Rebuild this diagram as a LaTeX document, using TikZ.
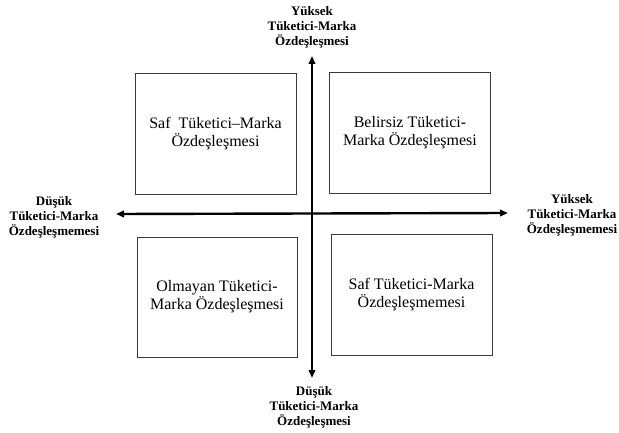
\documentclass[tikz,border=0pt]{standalone}
\usepackage{fontspec}
\setmainfont{Liberation Serif}
\usetikzlibrary{arrows.meta}

\definecolor{kutuCizgi}{HTML}{3A3A3A}

\begin{document}
\begin{tikzpicture}[x=1pt,y=-1pt,
  kutu/.style={draw=kutuCizgi,line width=0.9pt,align=center,inner sep=0pt,
    minimum width=161pt,minimum height=121pt,font=\fontsize{16}{18}\selectfont},
  eksenYazi/.style={align=center,font=\bfseries\fontsize{13}{15}\selectfont},
  eksen/.style={{Triangle[length=8pt,width=6.5pt]}-{Triangle[length=8pt,width=6.5pt]},line width=2.4pt}]
\useasboundingbox (0,0) rectangle (619,433);

% Eksenler
\coordinate (solUc) at (116,214);
\coordinate (sagUc) at (508,213);
\coordinate (ustUc) at (312,56);
\coordinate (altUc) at (312,378);
\draw[eksen] (solUc) -- (sagUc);
\draw[eksen] (ustUc) -- (altUc);

% Kutular
\node[kutu] (solUst) at (215.5,133.5) {Saf\ \ Tüketici--Marka\\Özdeşleşmesi};
\node[kutu] (sagUst) at (410,132.5) {Belirsiz Tüketici-\\Marka Özdeşleşmesi};
\node[kutu,minimum width=160pt,minimum height=120pt] (solAlt) at (217,297) {Olmayan Tüketici-\\Marka Özdeşleşmesi};
\node[kutu] (sagAlt) at (411.5,294.5) {Saf Tüketici-Marka\\Özdeşleşmemesi};

% Eksen etiketleri
\node[eksenYazi] (ustYazi) at (312,27) {Yüksek\\Tüketici-Marka\\Özdeşleşmesi};
\node[eksenYazi] (altYazi) at (314,407) {Düşük\\Tüketici-Marka\\Özdeşleşmesi};
\node[eksenYazi] (solYazi) at (54,217) {Düşük\\Tüketici-Marka\\Özdeşleşmemesi};
\node[eksenYazi] (sagYazi) at (572,215) {Yüksek\\Tüketici-Marka\\Özdeşleşmemesi};
\end{tikzpicture}
\end{document}
